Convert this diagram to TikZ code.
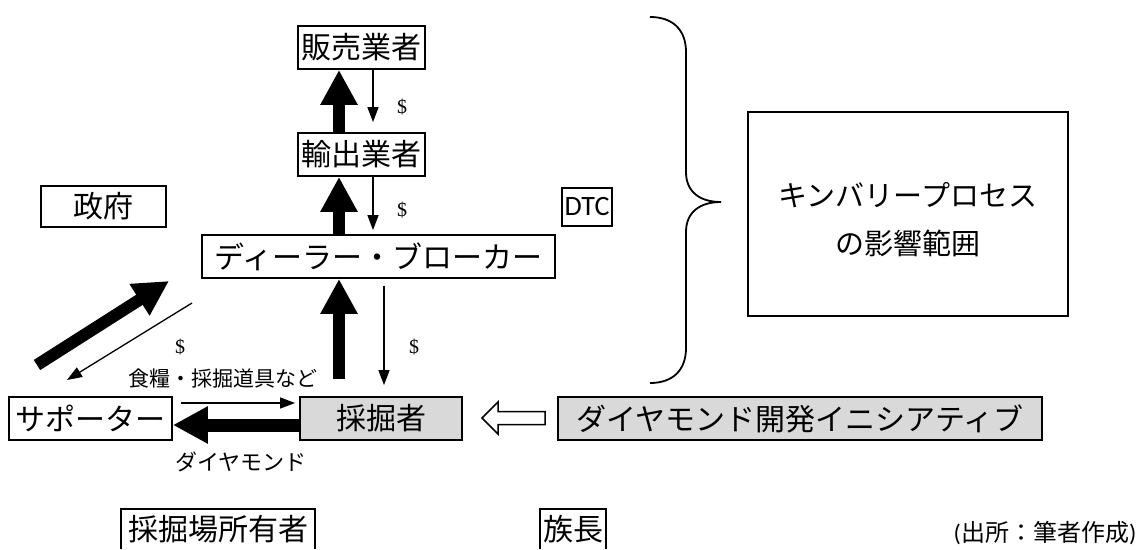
\documentclass[tikz,border=0pt]{standalone}
\usepackage{fontspec}
\setmainfont{Liberation Serif}
\newfontfamily\jp{Noto Sans CJK JP}
\newfontfamily\carl{Carlito}
\usetikzlibrary{arrows.meta,calc}
\definecolor{boxgray}{RGB}{217,217,217}
\begin{document}
\begin{tikzpicture}[x=1pt,y=-1pt,
  box/.style={draw,line width=1.8pt,inner sep=0pt,font=\jp\fontsize{30}{30}\selectfont},
  graybox/.style={box,fill=boxgray},
  openbox/.style={inner sep=0pt,font=\jp\fontsize{30}{30}\selectfont},
  thinarrow/.style={line width=1.3pt,-{Triangle[width=11pt,length=15pt]}},
  fatarrow/.style={line width=12pt,-{Triangle[width=35pt,length=35pt]}},
  dollar/.style={font=\fontsize{20}{20}\selectfont,inner sep=0pt},
  lbl/.style={font=\jp\fontsize{21}{21}\selectfont,inner sep=0pt}]
\useasboundingbox (0,0) rectangle (1138,549);

% boxes
\node[box,minimum width=127pt,minimum height=43pt] (hanbai) at (361.5,47.5) {販売業者};
\node[box,minimum width=127pt,minimum height=43pt] (yushutsu) at (361.5,154.5) {輸出業者};
\node[box,minimum width=125pt,minimum height=41pt] (seifu) at (103.5,206.5) {政府};
\node[draw,line width=1.8pt,inner sep=0pt,minimum width=50pt,minimum height=38pt,font=\carl\fontsize{28}{28}\selectfont] (dtc) at (587,207) {DTC};
\node[box,minimum width=353pt,minimum height=43pt] (dealer) at (378.5,256.5) {ディーラー・ブローカー};
\node[box,minimum width=163pt,minimum height=43pt] (supporter) at (90.5,418.5) {サポーター};
\node[graybox,minimum width=162pt,minimum height=43pt] (saikutsu) at (381,418.5) {採掘者};
\node[graybox,minimum width=484pt,minimum height=43pt] (ddi) at (800,418.5) {ダイヤモンド開発イニシアティブ};
\node[draw,line width=1.8pt,minimum width=320pt,minimum height=204pt] (kp) at (908,214) {};
\node[font=\jp\fontsize{29}{48}\selectfont,align=center,inner sep=0pt] (kptext) at (908,220) {キンバリープロセス\\の影響範囲};

% boxes open at the bottom edge
\node[openbox,minimum width=194pt,minimum height=40pt] (owner) at (218,529) {採掘場所有者};
\draw[line width=1.8pt] (owner.south west) |- (owner.north east) -- (owner.south east);
\node[openbox,minimum width=66pt,minimum height=40pt] (chief) at (573,529) {族長};
\draw[line width=1.8pt] (chief.south west) |- (chief.north east) -- (chief.south east);

% vertical chain
\draw[fatarrow] ([xshift=-22.5pt]yushutsu.north) -- ([xshift=-22.5pt]hanbai.south);
\draw[thinarrow,shorten >=10pt] ([xshift=11.5pt]hanbai.south) -- ([xshift=11.5pt]yushutsu.north);
\node[dollar] (d1) at (402,107) {\$};
\draw[fatarrow] ([xshift=-39.5pt]dealer.north) -- ([xshift=-22.5pt]yushutsu.south);
\draw[thinarrow,shorten >=4pt] ([xshift=11.5pt]yushutsu.south) -- ([xshift=-5.5pt]dealer.north);
\node[dollar] (d2) at (402,210) {\$};

% dealer <-> miner
\draw[fatarrow,shorten <=17pt] ([xshift=-42pt]saikutsu.north) -- ([xshift=-39.5pt]dealer.south);
\draw[thinarrow,shorten <=7pt,shorten >=11pt] ([xshift=5.5pt]dealer.south) -- ([xshift=3pt]saikutsu.north);
\node[dollar] (d4) at (414,347) {\$};

% supporter <-> dealer (diagonal)
\coordinate (dga) at (37,365);
\coordinate (dgb) at (169,281);
\draw[fatarrow] (dga) -- (dgb);
\coordinate (dgc) at (192,303);
\coordinate (dgd) at (67,380);
\draw[thinarrow] (dgc) -- (dgd);
\node[dollar] (d3) at (180,347) {\$};

% supporter <-> miner
\node[lbl] (food) at (223,379) {食糧・採掘道具など};
\draw[thinarrow,shorten <=8pt,shorten >=4pt] ([yshift=15.5pt]supporter.east) -- ([yshift=15.5pt]saikutsu.west);
\draw[fatarrow,line width=13pt] ([yshift=-6.5pt]saikutsu.west) -- ([yshift=-6.5pt]supporter.east);
\node[font=\jp\fontsize{22}{22}\selectfont,inner sep=0pt] (dia) at (241,462) {ダイヤモンド};

% hollow arrow from DDI to miner
\draw[line width=1.5pt,fill=white,line join=miter]
  (545,411.5) -- (498,411.5) -- (498,402) -- (482,418) -- (498,434) -- (498,424.5) -- (545,424.5) -- cycle;

% brace
\draw[line width=1.8pt]
  (650,17) .. controls (673,17) and (686,30) .. (686,52) -- (686,172)
  .. controls (686,192) and (700,202) .. (721,202)
  .. controls (700,202) and (686,212) .. (686,232) -- (686,348)
  .. controls (686,370) and (673,383) .. (650,383);

% source
\node[inner sep=0pt] (src) at (1045,533) {{\carl\fontsize{24}{24}\selectfont(}{\jp\fontsize{24}{24}\selectfont 出所：筆者作成}{\carl\fontsize{24}{24}\selectfont)}};
\end{tikzpicture}
\end{document}
